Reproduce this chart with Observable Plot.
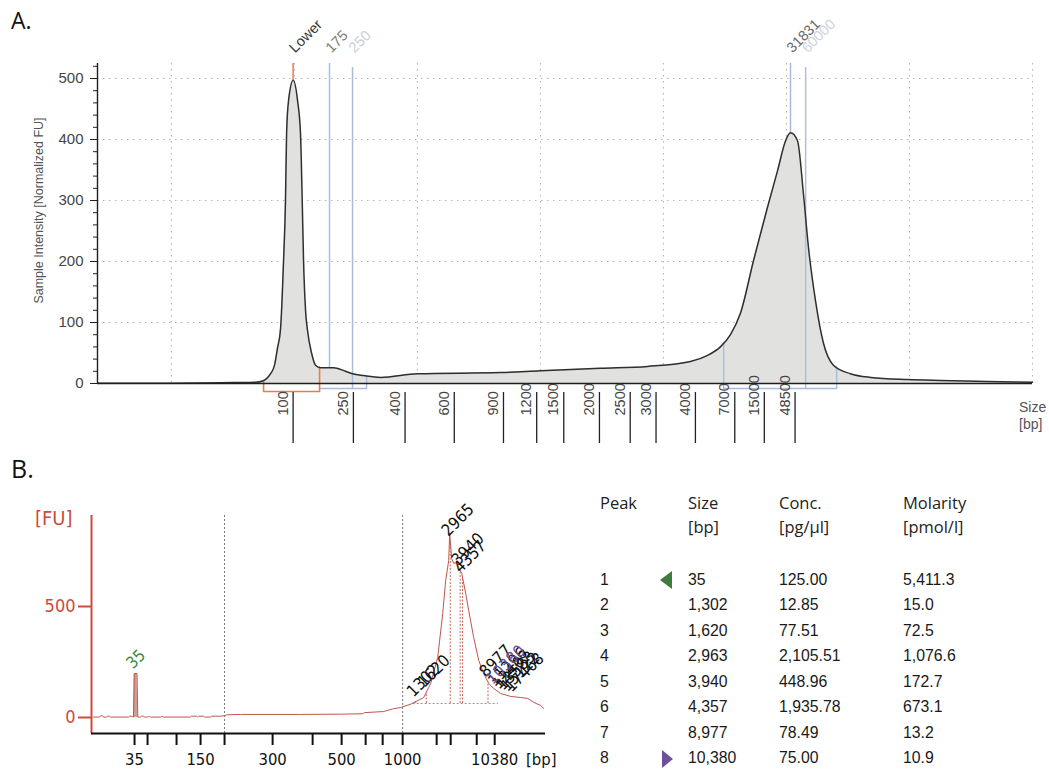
<!DOCTYPE html>
<html><head><meta charset="utf-8">
<script src="https://cdn.jsdelivr.net/npm/d3@7"></script>
<script src="https://cdn.jsdelivr.net/npm/@observablehq/plot@0.6"></script>
<style>
html,body{margin:0;padding:0;background:#fff;}
body{width:1049px;height:771px;overflow:hidden;position:relative;font-family:"Liberation Sans",Arial,sans-serif;}
.abs{position:absolute;white-space:nowrap;}
.panel{position:absolute;}
.tri-l{position:absolute;width:0;height:0;border-top:9px solid transparent;border-bottom:9px solid transparent;border-right:12px solid #3f7d3f;}
.tri-r{position:absolute;width:0;height:0;border-top:9px solid transparent;border-bottom:9px solid transparent;border-left:11px solid #6d4f9e;}
</style></head><body>
<script>
// ---------------- Panel A data (electropherogram, migration time units) ----------------
const timeA = [14.0,18.31,22.37,25.06,26.85,27.42,27.74,28.07,28.39,28.63,28.88,29.12,29.28,29.37,29.53,29.91,30.26,30.50,30.64,30.75,30.91,31.07,31.40,31.72,32.13,33.19,34.16,34.73,35.63,37.01,40.02,46.76,50.02,54.89,58.72,62.20,63.59,64.63,65.45,66.26,67.33,68.46,69.28,69.93,70.33,70.90,71.38,71.79,72.36,73.01,73.82,75.20,76.85,79.85,82.54,87.41,90.0];
const fuA   = [0.5,0.5,0.8,1.5,2,4,8,16,30,58,90,200,300,410,464,497,464,410,300,200,120,87,50,30,26,26,20,16,13,10,16,18,21,25,28,36,46,60,80,115,202,289,349,398,411,398,311,223,136,66,30,16,10,6.5,5,3,2];
const ladderBpA   = ["100","250","400","600","900","1200","1500","2000","2500","3000","4000","7000","15000","48500"];
const ladderTimeA = [29.9,34.8,39.0,43.0,47.0,49.7,51.9,54.8,57.3,59.4,62.6,65.8,68.2,70.7];
const markerNamesA = ["Lower","175","250","31831","60000"];
const markerTimesA = [29.9,32.86,34.73,70.33,71.56];
const regionStartA = [27.5,32.13,64.9];
const regionEndA   = [32.05,35.87,74.08];
const gridXA = [20,30,40,50,60,70,80,90];
const gridYA = [100,200,300,400,500];
const majorTicksA = [0,100,200,300,400,500];
const minorTicksA = [0,20,40,60,80,100,120,140,160,180,200,220,240,260,280,300,320,340,360,380,400,420,440,460,480,500,520];
const yTitleA = "Sample Intensity [Normalized FU]";

// ---------------- Panel B data ----------------
const timeB = [40.33,41.3,41.49,41.82,41.98,42.48,42.64,42.98,43.14,46.12,46.28,46.61,46.94,47.07,47.52,47.65,48.10,48.26,48.60,48.76,49.26,49.42,49.59,49.75,51.40,51.57,51.9,56.36,56.52,57.36,57.52,57.69,58.51,58.68,59.67,59.84,61.32,61.98,62.31,64.63,74.55,81.16,84.79,85.12,88.26,89.92,91.07,92.73,94.88,96.03,97.19,98.02,98.51,99.01,99.17,99.50,99.83,100.33,100.66,101.16,101.82,102.31,103.14,103.97,104.79,105.62,106.45,107.60,109.26,110.91,112.07,113.06,114.21,114.71];
const fuB   = [2,2,8,8,2,2,6,6,2,2,6,6,2,198,198,2,2,6,6,2,2,5,5,2,2,5,2,2,6,6,2,6,6,2,2,6,6,8,12,14,14,15,17,22,27,40,45,60,90,153,270,468,617,707,829,716,694,698,676,649,559,482,360,257,198,153,131,108,95,90,86,68,54,41];
const ladderBpB   = [35,50,100,150,200,300,400,500,600,700,1000,2000,3000,7000,10380];
const ladderTimeB = [47.11,49.26,54.05,58.02,61.98,69.92,76.53,81.32,85.29,88.10,91.40,97.02,99.34,103.64,106.61];
const labelledBpB = [35,150,300,500,1000,10380];
const dottedBpB = [200,1000];
const peakLabelB = ["35","1302","1620","2965","3940","4357","8977","10380"];
const peakTimeB  = [47.2,93.54,95.31,99.27,100.9,101.3,105.5,106.61];
const extraLabelB = ["11296","12407","13583","15122","17468"];
const extraTimeB  = [107.1,107.8,108.5,109.2,109.9];
const peakBaselineB = 63;

// ---------------- Table data ----------------
const tableHeader = ["Peak","Size","Conc.","Molarity"];
const tableUnits  = ["","[bp]","[pg/µl]","[pmol/l]"];
const peakNumbers = ["1","2","3","4","5","6","7","8"];
const peakSizes   = ["35","1,302","1,620","2,963","3,940","4,357","8,977","10,380"];
const peakConc    = ["125.00","12.85","77.51","2,105.51","448.96","1,935.78","78.49","75.00"];
const peakMolarity= ["5,411.3","15.0","72.5","1,076.6","172.7","673.1","13.2","10.9"];

// ---------------- helpers ----------------
function interp(ts, vs, t){
  const i = d3.bisectRight(ts, t);
  if (i <= 0) return vs[0];
  if (i >= ts.length) return vs[vs.length-1];
  const a = ts[i-1], b = ts[i];
  return vs[i-1] + (vs[i]-vs[i-1])*(t-a)/(b-a);
}
const fuAtA = t => interp(timeA, fuA, t);
const fuAtB = t => interp(timeB, fuB, t);

// ---------------- Panel A ----------------
const pxPerFuA = 0.61;
const yMaxA = 320 / pxPerFuA;
const below = px => -px / pxPerFuA;   // pixel offset below baseline -> FU
const traceA = timeA.map((t,i)=>({t, fu: fuA[i]}));
const ladderA = ladderTimeA.map((t,i)=>({t, label: ladderBpA[i]}));
const markersA = markerTimesA.map((t,i)=>({t, name: markerNamesA[i]}));
const markerStyleA = {
  "Lower": {line:"#ec7a4e", text:"#333333", kind:"lower"},
  "175":   {line:"#a8c0e0", text:"#7c7c7c", kind:"full"},
  "250":   {line:"#a9bcdc", text:"#c9cfdb", kind:"short"},
  "31831": {line:"#a8bad6", text:"#6a6a6a", kind:"full"},
  "60000": {line:"#b2bed8", text:"#cdd2de", kind:"short"}
};
const bracketA = [];
regionStartA.forEach((s,i)=>{
  const e = regionEndA[i];
  const yb = i === 0 ? below(8) : below(5);
  if (i === 1) {
    bracketA.push({id:i,t:s,fu:yb},{id:i,t:e,fu:yb},{id:i,t:e,fu:fuAtA(e)});
  } else {
    bracketA.push({id:i,t:s,fu:fuAtA(s)},{id:i,t:s,fu:yb},{id:i,t:e,fu:yb},{id:i,t:e,fu:fuAtA(e)});
  }
});

const plotA = Plot.plot({
  width: 1049, height: 455,
  marginLeft: 97, marginRight: 17, marginTop: 63, marginBottom: 72,
  x: {domain: [14, 90], axis: null},
  y: {domain: [0, yMaxA], axis: null, label: null},
  style: {fontFamily: "'Liberation Sans', Arial, sans-serif", fontSize: "14px", background: "transparent", overflow: "visible", color: "#222"},
  marks: [
    Plot.ruleY(gridYA, {stroke: "#b5b5b5", strokeDasharray: "1.5,4.5", strokeWidth: 1.1}),
    Plot.ruleX(gridXA, {stroke: "#b5b5b5", strokeDasharray: "1.5,4.5", strokeWidth: 1.1}),
    Plot.areaY(traceA, {x: "t", y: "fu", fill: "#e1e2df", curve: "monotone-x"}),
    Plot.ruleX(markersA.filter(d=>markerStyleA[d.name].kind==="full"), {x: "t", y1: d=>fuAtA(d.t), y2: yMaxA, stroke: d=>markerStyleA[d.name].line, strokeWidth: 1.5}),
    Plot.ruleX(markersA.filter(d=>markerStyleA[d.name].kind==="short"), {x: "t", y1: below(5), y2: yMaxA - 4/pxPerFuA, stroke: d=>markerStyleA[d.name].line, strokeWidth: 1.5}),
    Plot.line(bracketA.filter(d=>d.id>0), {x: "t", y: "fu", z: "id", stroke: "#a9bcdc", strokeWidth: 1.4}),
    Plot.line(bracketA.filter(d=>d.id===0), {x: "t", y: "fu", stroke: "#ec7a4e", strokeWidth: 1.6}),
    Plot.lineY(traceA, {x: "t", y: "fu", stroke: "#2e2e2e", strokeWidth: 1.5, curve: "monotone-x"}),
    Plot.ruleX(markersA.filter(d=>markerStyleA[d.name].kind==="lower"), {x: "t", y1: d=>fuAtA(d.t), y2: yMaxA, stroke: d=>markerStyleA[d.name].line, strokeWidth: 1.5}),
    Plot.ruleY([0], {stroke: "#1e1e1e", strokeWidth: 1.7}),
    Plot.ruleX([14], {stroke: "#1e1e1e", strokeWidth: 1.4}),
    Plot.axisY(minorTicksA, {anchor: "left", tickSize: 4, tickFormat: () => "", label: null, stroke: "#222"}),
    Plot.axisY(majorTicksA, {anchor: "left", tickSize: 7, tickPadding: 7, label: null, stroke: "#222", fill: "#454545", fontSize: 15}),
    Plot.text([yTitleA], {frameAnchor: "left", text: d => d, rotate: -90, textAnchor: "middle", dx: -59, dy: -13, fontSize: 12.5, fill: "#555"}),
    Plot.ruleX(ladderA, {x: "t", y1: below(9), y2: below(60), stroke: "#222", strokeWidth: 1.3}),
    Plot.text(ladderA, {x: "t", y: below(32), text: "label", rotate: -90, textAnchor: "start", dx: -10, fontSize: 14.5, fill: "#444"}),
    Plot.text(markersA, {x: "t", frameAnchor: "top", text: "name", rotate: -45, textAnchor: "start", lineAnchor: "bottom", dx: 2, dy: -10, fontSize: 14.5, fill: d=>markerStyleA[d.name].text})
  ]
});

// ---------------- Panel B ----------------
const redB = "#cd4a3d";
const traceB = timeB.map((t,i)=>({t, fu: fuB[i]}));
const spikeB = traceB.filter(d => d.t >= 46.94 && d.t <= 47.65);
const bpLabelOf = new Map(ladderTimeB.map((t,i)=>[t, labelledBpB.includes(ladderBpB[i]) ? String(ladderBpB[i]) : ""]));
const dottedTimesB = dottedBpB.map(bp => ladderTimeB[ladderBpB.indexOf(bp)]);
const peaksB = peakTimeB.map((t,i)=>({t, label: peakLabelB[i], fu: fuAtB(t), kind: i===0 ? "lower" : i===peakTimeB.length-1 ? "upper" : "peak"}));
const extraB = extraTimeB.map((t,i)=>({t, label: extraLabelB[i], fu: fuAtB(t), kind: "peak"}));
const hatchB = peaksB.filter(d=>d.kind==="peak");
const labelColorB = {lower: "#3d8a3d", upper: "#6d4f9e", peak: "#111"};

const plotB = Plot.plot({
  width: 580, height: 291,
  marginLeft: 91, marginRight: 35, marginTop: 35, marginBottom: 38,
  x: {domain: [40, 115], axis: null},
  y: {domain: [-72, 910], axis: null, label: null},
  style: {fontFamily: "'DejaVu Sans Condensed','DejaVu Sans',Verdana,sans-serif", fontSize: "16px", background: "transparent", overflow: "visible", color: "#111"},
  marks: [
    Plot.ruleX(dottedTimesB, {stroke: "#666", strokeDasharray: "2,2", strokeWidth: 0.9}),
    Plot.ruleY([peakBaselineB], {x1: d3.min(hatchB, d=>d.t) - 0.4, x2: d3.max(peaksB, d=>d.t) + 0.6, stroke: "#888", strokeDasharray: "2,2", strokeWidth: 0.9}),
    Plot.ruleX(hatchB, {x: "t", y1: peakBaselineB, y2: "fu", stroke: "#c0564a", strokeDasharray: "2,1.5", strokeWidth: 0.9}),
    Plot.areaY(spikeB, {x: "t", y: "fu", fill: "#cf9d93"}),
    Plot.line(traceB, {x: "t", y: "fu", stroke: "#c0564a", strokeWidth: 1}),
    Plot.ruleX([40], {stroke: redB, strokeWidth: 2}),
    Plot.ruleY([-72], {stroke: "#111", strokeWidth: 2}),
    Plot.axisY([0, 500], {anchor: "left", tickSize: 13, tickPadding: 3, label: null, stroke: redB, fill: redB, strokeWidth: 2, fontSize: 18}),
    Plot.axisX(ladderTimeB, {anchor: "bottom", tickSize: 12, tickPadding: 8, label: null, tickFormat: t => bpLabelOf.get(t), stroke: "#111", fill: "#111", strokeWidth: 2, fontSize: 16.5}),
    Plot.text(extraB, {x: "t", y: "fu", text: "label", rotate: -45, textAnchor: "start", lineAnchor: "bottom", dx: -3, dy: -4, fontSize: 16.5, fill: "#111"}),
    Plot.text(peaksB, {x: "t", y: "fu", text: "label", rotate: -45, textAnchor: "start", lineAnchor: "bottom", dx: -2, dy: -4, fontSize: 16.5, fill: d=>labelColorB[d.kind]})
  ]
});

// ---------------- Layout ----------------
const body = d3.select("body");
body.append("div").attr("class","abs").style("left","11px").style("top","4px").style("font","23px 'Open Sans', sans-serif").style("color","#111").text("A.");
const pa = body.append("div").attr("class","panel").style("left","0px").style("top","0px");
pa.node().appendChild(plotA);
body.append("div").attr("class","abs").style("left","1019px").style("top","399px").style("font","14px/17px 'Liberation Sans', Arial, sans-serif").style("color","#555").html("Size<br>[bp]");

body.append("div").attr("class","abs").style("left","11px").style("top","451px").style("font","25px 'Open Sans', sans-serif").style("color","#111").text("B.");
const pb = body.append("div").attr("class","panel").style("left","0px").style("top","480px");
pb.node().appendChild(plotB);
body.append("div").attr("class","abs").style("left","35px").style("top","505px").style("font","20px/26px 'DejaVu Sans Condensed','DejaVu Sans',sans-serif").style("color",redB).text("[FU]");
body.append("div").attr("class","abs").style("left","526px").style("top","748px").style("font","16.5px/24px 'DejaVu Sans Condensed','DejaVu Sans',sans-serif").style("color","#111").text("[bp]");

// table
const colX = [600, 688, 779, 903];
const hdrFont = "16.5px/20px 'Open Sans', sans-serif";
const cellFont = "15.8px/20px 'Liberation Sans', Arial, sans-serif";
tableHeader.forEach((h,i)=>{
  body.append("div").attr("class","abs").style("left",colX[i]+"px").style("top",(503-10)+"px").style("font",hdrFont).style("color","#222").text(h);
  if (tableUnits[i]) body.append("div").attr("class","abs").style("left",colX[i]+"px").style("top",(527-10)+"px").style("font",hdrFont).style("color","#222").text(tableUnits[i]);
});
const rowY = i => 580 + i*25.43;
peakNumbers.forEach((n,i)=>{
  const cells = [n, peakSizes[i], peakConc[i], peakMolarity[i]];
  cells.forEach((c,j)=>{
    body.append("div").attr("class","abs").style("left",colX[j]+"px").style("top",(rowY(i)-10)+"px").style("font",cellFont).style("color","#1a1a1a").text(c);
  });
});
body.append("div").attr("class","tri-l").style("left","660px").style("top",(rowY(0)-9)+"px");
body.append("div").attr("class","tri-r").style("left","662px").style("top",(rowY(7)-8)+"px");
</script>
</body></html>
